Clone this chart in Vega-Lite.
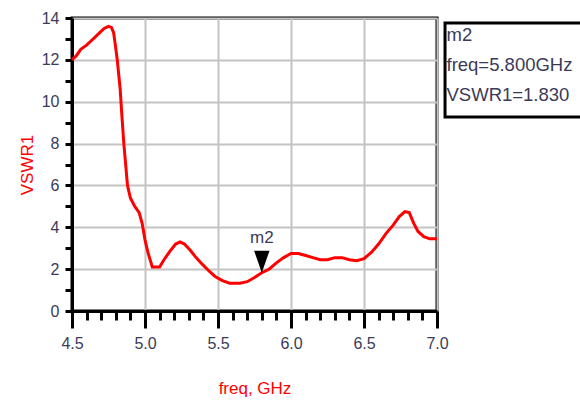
{
  "$schema": "https://vega.github.io/schema/vega-lite/v6.json",
  "width": 365,
  "height": 293,
  "autosize": {"type": "none"},
  "padding": {"left": 72, "top": 18, "right": 143, "bottom": 92},
  "background": "white",
  "config": {
    "font": "Liberation Sans",
    "view": {"stroke": "black", "strokeWidth": 3},
    "axis": {
      "domainColor": "black",
      "domainWidth": 3,
      "tickColor": "black",
      "tickWidth": 3,
      "gridColor": "#c4c4c4",
      "gridWidth": 2,
      "labelColor": "#3b3b58",
      "labelFontSize": 16,
      "titleColor": "#ff0000",
      "titleFontWeight": "normal"
    }
  },
  "datasets": {
    "sweep": [
      {"freq": 4.50, "vswr": 12.0},
      {"freq": 4.53, "vswr": 12.2},
      {"freq": 4.56, "vswr": 12.5},
      {"freq": 4.60, "vswr": 12.7},
      {"freq": 4.63, "vswr": 12.9},
      {"freq": 4.66, "vswr": 13.1},
      {"freq": 4.69, "vswr": 13.3},
      {"freq": 4.72, "vswr": 13.5},
      {"freq": 4.75, "vswr": 13.6},
      {"freq": 4.77, "vswr": 13.55},
      {"freq": 4.785, "vswr": 13.3},
      {"freq": 4.795, "vswr": 12.8},
      {"freq": 4.81, "vswr": 12.0},
      {"freq": 4.83, "vswr": 10.6},
      {"freq": 4.84, "vswr": 9.5},
      {"freq": 4.855, "vswr": 8.0},
      {"freq": 4.87, "vswr": 6.8},
      {"freq": 4.88, "vswr": 6.0},
      {"freq": 4.90, "vswr": 5.4},
      {"freq": 4.93, "vswr": 5.0},
      {"freq": 4.96, "vswr": 4.7},
      {"freq": 4.98, "vswr": 4.2},
      {"freq": 5.00, "vswr": 3.4},
      {"freq": 5.02, "vswr": 2.8},
      {"freq": 5.05, "vswr": 2.1},
      {"freq": 5.10, "vswr": 2.1},
      {"freq": 5.13, "vswr": 2.45},
      {"freq": 5.17, "vswr": 2.85},
      {"freq": 5.21, "vswr": 3.2},
      {"freq": 5.24, "vswr": 3.3},
      {"freq": 5.27, "vswr": 3.2},
      {"freq": 5.31, "vswr": 2.9},
      {"freq": 5.35, "vswr": 2.55},
      {"freq": 5.39, "vswr": 2.25},
      {"freq": 5.44, "vswr": 1.9},
      {"freq": 5.48, "vswr": 1.65},
      {"freq": 5.53, "vswr": 1.45},
      {"freq": 5.58, "vswr": 1.33},
      {"freq": 5.65, "vswr": 1.33},
      {"freq": 5.70, "vswr": 1.4},
      {"freq": 5.75, "vswr": 1.6},
      {"freq": 5.80, "vswr": 1.83},
      {"freq": 5.85, "vswr": 2.0},
      {"freq": 5.90, "vswr": 2.3},
      {"freq": 5.95, "vswr": 2.55},
      {"freq": 6.00, "vswr": 2.75},
      {"freq": 6.05, "vswr": 2.75},
      {"freq": 6.10, "vswr": 2.65},
      {"freq": 6.15, "vswr": 2.55},
      {"freq": 6.20, "vswr": 2.45},
      {"freq": 6.25, "vswr": 2.45},
      {"freq": 6.30, "vswr": 2.55},
      {"freq": 6.35, "vswr": 2.55},
      {"freq": 6.40, "vswr": 2.45},
      {"freq": 6.45, "vswr": 2.4},
      {"freq": 6.50, "vswr": 2.5},
      {"freq": 6.55, "vswr": 2.8},
      {"freq": 6.60, "vswr": 3.2},
      {"freq": 6.65, "vswr": 3.7},
      {"freq": 6.70, "vswr": 4.1},
      {"freq": 6.74, "vswr": 4.5},
      {"freq": 6.78, "vswr": 4.75},
      {"freq": 6.81, "vswr": 4.7},
      {"freq": 6.84, "vswr": 4.2},
      {"freq": 6.87, "vswr": 3.8},
      {"freq": 6.91, "vswr": 3.55},
      {"freq": 6.95, "vswr": 3.45},
      {"freq": 7.00, "vswr": 3.45}
    ],
    "marker": [
      {"freq": 5.80, "vswr": 1.83, "name": "m2"}
    ],
    "readout": [
      {"row": 1, "freq": 7.065, "vswr": 13.2, "text": "m2"},
      {"row": 2, "freq": 7.065, "vswr": 11.75, "text": "freq=5.800GHz"},
      {"row": 3, "freq": 7.065, "vswr": 10.3, "text": "VSWR1=1.830"}
    ],
    "readoutBox": [
      {"x0": 7.055, "x1": 8.05, "y0": 13.76, "y1": 9.27}
    ]
  },
  "resolve": {"axis": {"x": "independent", "y": "independent"}},
  "layer": [
    {
      "data": {"name": "sweep"},
      "mark": {"type": "line", "color": "#ff0000", "strokeWidth": 3, "interpolate": "linear"},
      "encoding": {
        "x": {
          "field": "freq",
          "type": "quantitative",
          "scale": {"domain": [4.5, 7.0], "nice": false, "zero": false},
          "axis": {
            "orient": "bottom",
            "title": "freq, GHz",
            "titleFontSize": 17,
            "titlePadding": 29,
            "values": [4.5, 5.0, 5.5, 6.0, 6.5, 7.0],
            "format": ".1f",
            "tickSize": 17,
            "grid": true,
            "labelPadding": 7,
            "labelFlush": false,
            "labelOverlap": false
          }
        },
        "y": {
          "field": "vswr",
          "type": "quantitative",
          "scale": {"domain": [0, 14], "nice": false, "zero": true},
          "axis": {
            "orient": "left",
            "title": "VSWR1",
            "titleFontSize": 17,
            "titlePadding": 5,
            "values": [0, 2, 4, 6, 8, 10, 12, 14],
            "grid": true,
            "tickSize": 7,
            "labelPadding": 6,
            "labelFlush": false,
            "labelOverlap": false
          }
        }
      }
    },
    {
      "data": {"name": "marker"},
      "mark": {"type": "point", "shape": "M-0.35,-1L0.35,-1L0,0Z", "filled": true, "color": "black", "size": 1936, "opacity": 1},
      "encoding": {
        "x": {
          "field": "freq",
          "type": "quantitative",
          "axis": {
            "orient": "bottom",
            "title": null,
            "values": [4.6, 4.7, 4.8, 4.9, 5.1, 5.2, 5.3, 5.4, 5.6, 5.7, 5.8, 5.9, 6.1, 6.2, 6.3, 6.4, 6.6, 6.7, 6.8, 6.9],
            "labels": false,
            "grid": false,
            "domain": false,
            "tickSize": 9
          }
        },
        "y": {
          "field": "vswr",
          "type": "quantitative",
          "axis": {
            "orient": "left",
            "title": null,
            "values": [1, 3, 5, 7, 9, 11, 13],
            "labels": false,
            "grid": false,
            "domain": false,
            "tickSize": 7
          }
        }
      }
    },
    {
      "data": {"name": "marker"},
      "mark": {"type": "text", "color": "#3b3b58", "fontSize": 17, "dy": -35, "align": "center", "baseline": "middle"},
      "encoding": {
        "x": {"field": "freq", "type": "quantitative", "axis": null},
        "y": {"field": "vswr", "type": "quantitative", "axis": null},
        "text": {"field": "name"}
      }
    },
    {
      "data": {"name": "readoutBox"},
      "mark": {"type": "rect", "fill": "white", "stroke": "black", "strokeWidth": 3, "clip": false},
      "encoding": {
        "x": {"field": "x0", "type": "quantitative", "axis": null},
        "x2": {"field": "x1"},
        "y": {"field": "y0", "type": "quantitative", "axis": null},
        "y2": {"field": "y1"}
      }
    },
    {
      "data": {"name": "readout"},
      "mark": {"type": "text", "color": "#3b3b58", "fontSize": 18.5, "align": "left", "baseline": "middle", "clip": false},
      "encoding": {
        "x": {"field": "freq", "type": "quantitative", "axis": null},
        "y": {"field": "vswr", "type": "quantitative", "axis": null},
        "text": {"field": "text"}
      }
    }
  ]
}
